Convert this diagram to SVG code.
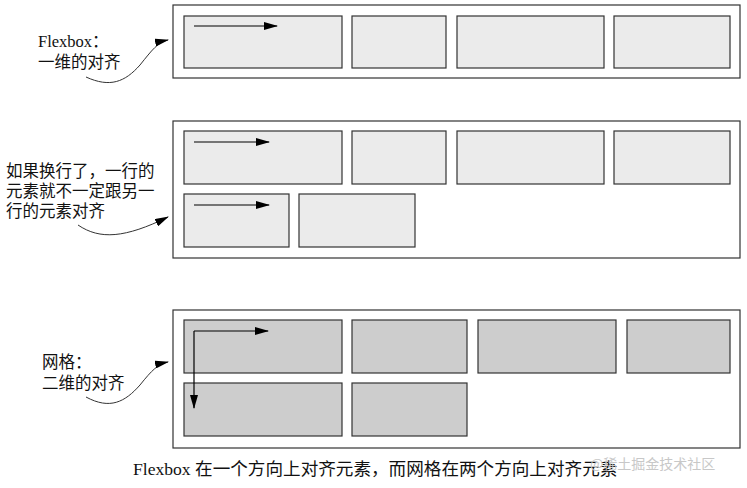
<svg xmlns="http://www.w3.org/2000/svg" width="747" height="488" viewBox="0 0 747 488">
<style>
.c{fill:#fff;stroke:#333;stroke-width:1.2}
.b{fill:#ebebeb;stroke:#333;stroke-width:1.2}
.g{fill:#cdcdcd;stroke:#333;stroke-width:1.2}
.a{stroke:#000;stroke-width:1.2;fill:none;marker-end:url(#ah)}
.cv{stroke:#333;stroke-width:1;fill:none;marker-end:url(#ah)}
text{font-family:"Liberation Serif","Noto Sans CJK SC",serif;font-size:16.5px;fill:#111}
</style>
<defs><marker id="ah" markerWidth="14" markerHeight="8" refX="13" refY="4" orient="auto" markerUnits="userSpaceOnUse"><path d="M0,0 L14,4 L0,8 Z" fill="#000"/></marker></defs>
<g id="flex1"><rect class="c" x="173" y="5" width="567" height="73"/>
<rect class="b" x="184" y="16" width="158" height="52"/><rect class="b" x="352" y="16" width="94" height="52"/><rect class="b" x="457" y="16" width="147" height="52"/><rect class="b" x="614" y="16" width="116" height="52"/></g>
<g id="flex2"><rect class="c" x="173" y="121" width="567" height="137"/>
<rect class="b" x="184" y="131" width="158" height="53"/><rect class="b" x="352" y="131" width="94" height="53"/><rect class="b" x="457" y="131" width="147" height="53"/><rect class="b" x="614" y="131" width="116" height="53"/>
<rect class="b" x="184" y="194" width="105" height="53"/><rect class="b" x="299" y="194" width="116" height="53"/></g>
<g id="grid"><rect class="c" x="173" y="310" width="567" height="138"/>
<rect class="g" x="184" y="320" width="158" height="53"/><rect class="g" x="352" y="320" width="115" height="53"/><rect class="g" x="478" y="320" width="138" height="53"/><rect class="g" x="627" y="320" width="103" height="53"/>
<rect class="g" x="184" y="383" width="158" height="53"/><rect class="g" x="352" y="383" width="115" height="53"/></g>
<g id="labels">
<text x="38" y="47">Flexbox：</text><text x="38" y="68">一维的对齐</text>
<text x="6" y="177">如果换行了，一行的</text><text x="6" y="197">元素就不一定跟另一</text><text x="6" y="217">行的元素对齐</text>
<text x="42" y="368">网格：</text><text x="42" y="389">二维的对齐</text>
<text x="133" y="475" style="font-size:17.6px">Flexbox 在一个方向上对齐元素，而网格在两个方向上对齐元素</text>
<text x="590" y="469" style="font-size:14px;fill:#c8c8c8;font-family:'Noto Sans CJK SC',sans-serif">@稀土掘金技术社区</text>
</g>
<g id="connectors">
<path class="a" d="M194,26 H277"/>
<path class="a" d="M194,142 H269"/>
<path class="a" d="M194,205 H269"/>
<path class="a" d="M194,331 H268"/>
<path class="a" d="M194,331 V408"/>
<path class="cv" d="M86,77 C110,88 125,82 140,65 C152,50 158,42 168,40"/>
<path class="cv" d="M78,225 C100,240 125,238 168,217"/>
<path class="cv" d="M86,397 C110,410 125,402 140,385 C152,370 158,364 168,362"/>
</g>
</svg>
